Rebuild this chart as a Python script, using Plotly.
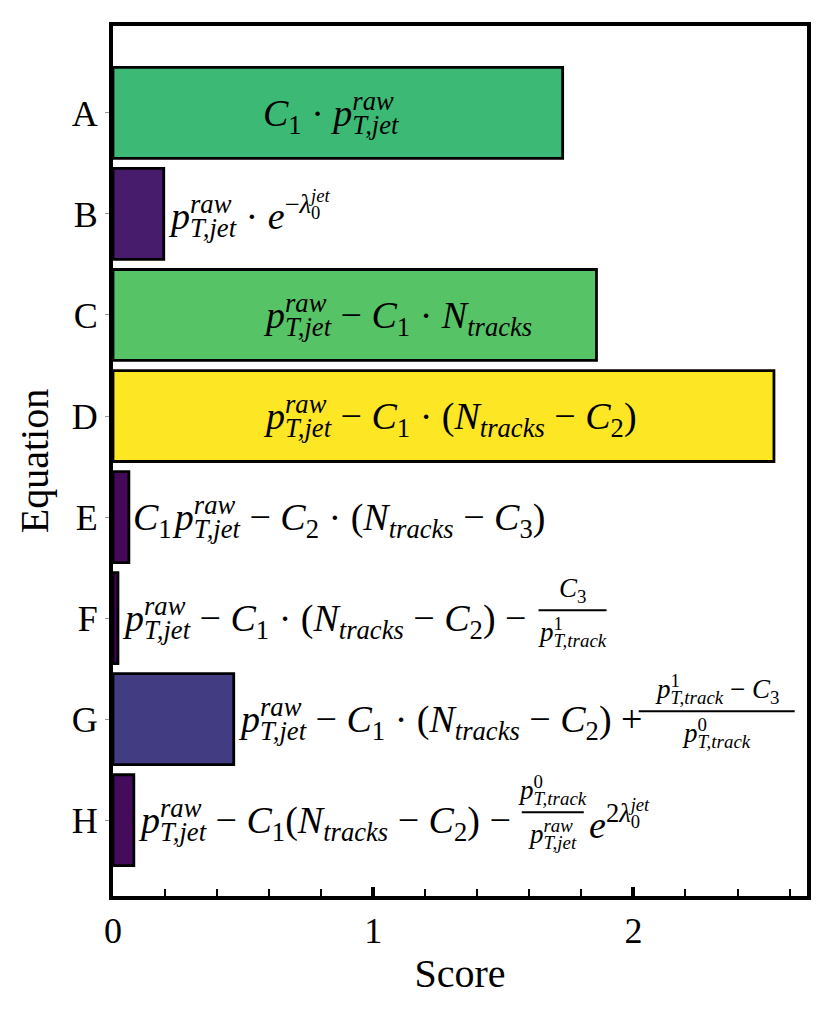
import plotly.graph_objects as go

# ---- data -------------------------------------------------------------
equations = ["A", "B", "C", "D", "E", "F", "G", "H"]
scores = [1.728, 0.195, 1.858, 2.540, 0.061, 0.019, 0.464, 0.080]

FONT = "Liberation Serif, Times New Roman, serif"
F_MAIN = 38      # main equation size
F_FRAC = 27      # fraction size

# rough advance widths (em) for Liberation Serif, used to stack sub/sup
ITALIC_W = {"a": 0.5, "c": 0.444, "e": 0.444, "j": 0.278, "k": 0.444, "r": 0.389,
            "s": 0.389, "t": 0.278, "w": 0.667, "T": 0.556, ",": 0.25}


def width_em(s):
    return sum(ITALIC_W.get(ch, 0.5) for ch in s)


def stack(first, second, f, first_it=True, second_it=True):
    """first as sup/sub, then step back so second lands under/over it."""
    back = width_em(first) * 0.7 * f + 0.25 * f
    a = f"<i>{first}</i>" if first_it else first
    b = f"<i>{second}</i>" if second_it else second
    return a, b, back


def p_sup_sub(sup, sub, f, sup_it=True):
    a, b, back = stack(sup, sub, f, sup_it, True)
    return (f"<i>p</i><sup>{a}</sup>"
            f"<span style=\"letter-spacing:{-back:.1f}px\">\u00a0</span><sub>{b}</sub>")


def lam0jet(f):
    # lambda_0^jet (sub first, shorter)
    a, b, back = stack("0", "jet", f, False, True)
    return (f"<i>λ</i><sub>{a}</sub>"
            f"<span style=\"letter-spacing:{-back:.1f}px\">\u00a0</span><sup>{b}</sup>")


def C(n):
    return f"<i>C</i><sub>{n}</sub>"


NTR = "<i>N</i><sub><i>tracks</i></sub>"
MINUS = " \u2212 "
DOT = " \u00b7 "

PRAW = p_sup_sub("raw", "T,jet", F_MAIN)

labels = [
    C(1) + DOT + PRAW,
    PRAW + DOT + "<i>e</i><sup>\u2212" + lam0jet(F_MAIN * 0.7) + "</sup>",
    PRAW + MINUS + C(1) + DOT + NTR,
    PRAW + MINUS + C(1) + DOT + "(" + NTR + MINUS + C(2) + ")",
    C(1) + "\u200a" + PRAW + MINUS + C(2) + DOT + "(" + NTR + MINUS + C(3) + ")",
    PRAW + MINUS + C(1) + DOT + "(" + NTR + MINUS + C(2) + ")" + MINUS,
    PRAW + MINUS + C(1) + DOT + "(" + NTR + MINUS + C(2) + ") +",
    PRAW + MINUS + C(1) + "(" + NTR + MINUS + C(2) + ")" + MINUS,
]
inside = [True, False, True, True, False, False, False, False]

# fractions: (category, centre x, numerator, denominator, half width px)
fractions = [
    ("F", 1.766, C(3), p_sup_sub("1", "T,track", F_FRAC, False), 34),
    ("G", 2.32, p_sup_sub("1", "T,track", F_FRAC, False) + MINUS + C(3),
     p_sup_sub("0", "T,track", F_FRAC, False), 78),
    ("H", 1.69, p_sup_sub("0", "T,track", F_FRAC, False),
     p_sup_sub("raw", "T,jet", F_FRAC), 31),
]
tail_H = (1.82, "<i>e</i><sup>2" + lam0jet(F_MAIN * 0.7) + "</sup>")

# ---- figure -----------------------------------------------------------
fig = go.Figure()
fig.add_trace(go.Bar(
    y=equations,
    x=scores,
    orientation="h",
    width=0.9,
    marker=dict(color=scores, colorscale="Viridis", cmin=0, cmax=max(scores),
                line=dict(color="black", width=2.8)),
    showlegend=False,
    hoverinfo="x+y",
))

annotations = []
for eq, val, txt, ins in zip(equations, scores, labels, inside):
    annotations.append(dict(
        x=0.57 if ins else val, y=eq, xref="x", yref="y",
        text=txt, showarrow=False, xanchor="left", yanchor="middle",
        xshift=0 if ins else 2,
        font=dict(family=FONT, size=F_MAIN, color="black"),
    ))

shapes = []
for eq, cx, num, den, hw in fractions:
    annotations.append(dict(x=cx, y=eq, text=num, showarrow=False, xanchor="center",
                            yanchor="bottom", yshift=10, borderpad=0,
                            font=dict(family=FONT, size=F_FRAC, color="black")))
    annotations.append(dict(x=cx, y=eq, text=den, showarrow=False, xanchor="center",
                            yanchor="top", yshift=6, borderpad=0,
                            font=dict(family=FONT, size=F_FRAC, color="black")))
    shapes.append(dict(type="line", xref="x", yref="y", xsizemode="pixel", ysizemode="pixel",
                       xanchor=cx, yanchor=eq, x0=-hw, x1=hw, y0=8, y1=8,
                       line=dict(color="black", width=2)))

annotations.append(dict(x=tail_H[0], y="H", text=tail_H[1], showarrow=False,
                        xanchor="left", yanchor="middle",
                        font=dict(family=FONT, size=F_MAIN, color="black")))

# the page adds a small body margin, so margins are trimmed to compensate
fig.update_layout(
    width=832, height=1022,
    margin=dict(l=105, r=33, t=18, b=134),
    paper_bgcolor="white", plot_bgcolor="white",
    font=dict(family=FONT, size=36, color="black"),
    annotations=annotations,
    shapes=shapes,
    bargap=0.1,
)

fig.update_xaxes(
    range=[0, max(scores) * 1.05],
    tickvals=[0, 1, 2],
    ticks="inside", ticklen=9, tickwidth=4, tickcolor="black",
    minor=dict(dtick=0.2, tick0=0, ticks="inside", ticklen=7, tickwidth=2,
               tickcolor="black", showgrid=False),
    showline=True, linewidth=4, linecolor="black", mirror=True,
    showgrid=False, zeroline=False, automargin=False,
    tickfont=dict(size=36),
    title=dict(text="Score", font=dict(size=40), standoff=10),
)
fig.update_yaxes(
    type="category",
    categoryorder="array", categoryarray=equations,
    range=[7.75, -0.86],
    ticks="outside", ticklen=4, tickwidth=1, tickcolor="#999",
    showline=True, linewidth=4, linecolor="black", mirror=True,
    showgrid=False, zeroline=False, automargin=False,
    tickfont=dict(size=36),
    title=dict(text="Equation", font=dict(size=40), standoff=12),
)

fig.write_html("out.html")
